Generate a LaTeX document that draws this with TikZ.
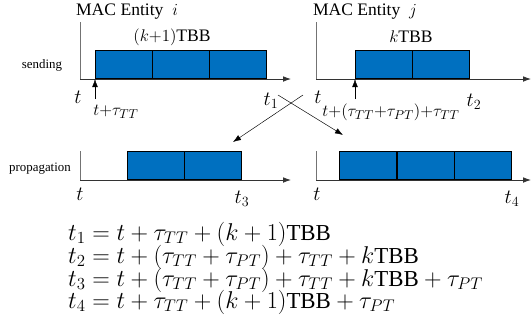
\documentclass[tikz,border=0pt]{standalone}
\usepackage{fontspec}
\setmainfont{Liberation Serif}
\usetikzlibrary{arrows.meta}

\definecolor{tbbblue}{RGB}{0,112,192}
\tikzset{
  tbb/.style={draw=black, fill=tbbblue, line width=0.8pt, inner sep=0pt,
    minimum width=17.1mm, minimum height=8.4mm, anchor=south west},
  axis/.style={black!80, line width=0.7pt},
  vline/.style={black!55, line width=0.7pt},
  lbl/.style={inner sep=0pt, font=\fontsize{15}{17}\selectfont},
  tlbl/.style={inner sep=0pt, font=\fontsize{18}{20}\selectfont},
  side/.style={inner sep=0pt, font=\fontsize{11}{13}\selectfont},
  eq/.style={inner sep=0pt, anchor=base west, font=\fontsize{19.5}{21}\selectfont}
}
\newcommand{\tbbtxt}{\textrm{TBB}}

\begin{document}
\begin{tikzpicture}[x=0.3mm, y=-0.3mm, >={Latex[length=2.4mm,width=1.7mm]}]
        \useasboundingbox (0,0) rectangle (531,326);

        % sending, entity i
        \coordinate (sitop) at (80,22);
        \coordinate (si) at (80,79);
        \coordinate (siend) at (291,79);
        \draw[vline] (sitop) -- (si);
        \draw[axis,->] (si) -- (siend);
        \foreach \k in {0,1,2}
          \node[tbb] (bi\k) at (95+57*\k,79) {};
        \coordinate (ui) at (95,99);
        \draw[->] (ui) -- (bi0.south west);

        \node[lbl] (enti) at (127,12) {MAC Entity\ \ $i$};
        \node[lbl] (tbbi) at (172,37) {$(k{+}1)$TBB};
        \node[side] (send) at (42,65) {sending};
        \node[tlbl] (ti) at (78,97) {$t$};
        \node[lbl] (tti) at (116,112) {$t{+}\tau_{TT}$};
        \node[tlbl] (t1) at (271,101) {$t_1$};

        % sending, entity j
        \coordinate (sjtop) at (316,22);
        \coordinate (sj) at (316,79);
        \coordinate (sjend) at (531,79);
        \draw[vline] (sjtop) -- (sj);
        \draw[axis,->] (sj) -- (sjend);
        \foreach \k in {0,1}
          \node[tbb] (bj\k) at (355+57*\k,79) {};
        \coordinate (uj) at (355,99);
        \draw[->] (uj) -- (bj0.south west);

        \node[lbl] (entj) at (365,12) {MAC Entity\ \ $j$};
        \node[lbl] (tbbj) at (411,37) {$k$TBB};
        \node[tlbl] (tj) at (318,97) {$t$};
        \node[lbl] (ttj) at (391,112) {$t{+}(\tau_{TT}{+}\tau_{PT}){+}\tau_{TT}$};
        \node[tlbl] (t2) at (474,102) {$t_2$};

        % crossing
        \coordinate (xa) at (278,95);
        \coordinate (xb) at (343,135);
        \coordinate (xc) at (303,95);
        \coordinate (xd) at (233,142);
        \draw[->] (xa) -- (xb);
        \draw[->] (xc) -- (xd);

        % propagation, left
        \coordinate (pitop) at (80,151);
        \coordinate (pi) at (80,180);
        \coordinate (piend) at (291,180);
        \draw[vline] (pitop) -- (pi);
        \draw[axis,->] (pi) -- (piend);
        \foreach \k in {0,1}
          \node[tbb] (ci\k) at (127+56.5*\k,180) {};
        \node[side] (prop) at (40,169) {propagation};
        \node[tlbl] (pti) at (80,194) {$t$};
        \node[tlbl] (t3) at (242,199) {$t_3$};

        % propagation, right
        \coordinate (pjtop) at (316,151);
        \coordinate (pj) at (316,180);
        \coordinate (pjend) at (531,180);
        \draw[vline] (pjtop) -- (pj);
        \draw[axis,->] (pj) -- (pjend);
        \foreach \k in {0,1,2}
          \node[tbb] (cj\k) at (339+57.7*\k,180) {};
        \node[tlbl] (ptj) at (317,194) {$t$};
        \node[tlbl] (t4) at (512,199) {$t_4$};

        % equations
        \node[eq] (e1) at (68,240) {$t_1 = t+\tau_{TT}+(k+1)\tbbtxt$};
        \node[eq] (e2) at (68,263) {$t_2 = t+(\tau_{TT}+\tau_{PT})+\tau_{TT}+k\tbbtxt$};
        \node[eq] (e3) at (68,286) {$t_3 = t+(\tau_{TT}+\tau_{PT})+\tau_{TT}+k\tbbtxt+\tau_{PT}$};
        \node[eq] (e4) at (68,308) {$t_4 = t+\tau_{TT}+(k+1)\tbbtxt+\tau_{PT}$};
    \end{tikzpicture}
\end{document}
